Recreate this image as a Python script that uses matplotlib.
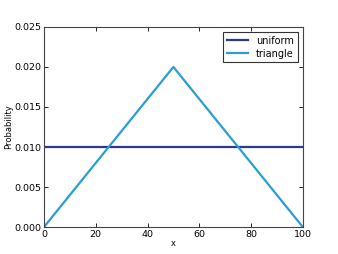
import numpy as np
import matplotlib
matplotlib.use('Agg')
import matplotlib.pyplot as plt

# datos
xs = [0, 50, 100]
triangle = [0.0, 0.02, 0.0]
xs_uniform = [0, 100]
uniform = [0.01, 0.01]

plt.rcParams['font.size'] = 6.5
fig = plt.figure(figsize=(3.38, 2.54), dpi=100)
ax = fig.add_axes([0.130, 0.106, 0.766, 0.788])

ax.plot(xs_uniform, uniform, color='#2a3b8f', lw=1.6, label='uniform')
ax.plot(xs, triangle, color='#2b9dcf', lw=1.6, label='triangle')

ax.set_xlim(0, 100)
ax.set_ylim(0, 0.025)
ax.set_xticks([0, 20, 40, 60, 80, 100])
ax.set_yticks([0.0, 0.005, 0.01, 0.015, 0.02, 0.025])
ax.set_yticklabels(['%.3f' % v for v in ax.get_yticks()])
ax.tick_params(direction='in', top=True, right=True, length=3, width=0.6, pad=2, labelsize=6.8)
for s in ax.spines.values():
    s.set_linewidth(0.8)
    s.set_color('#444444')

ax.set_xlabel('x', fontsize=6, labelpad=0)
ax.set_ylabel('Probability', fontsize=6, labelpad=1)

leg = ax.legend(loc='upper right', fontsize=7, fancybox=False, framealpha=1,
                handlelength=2.2, borderpad=0.4, labelspacing=0.3)
leg.get_frame().set_edgecolor('#333333')
leg.get_frame().set_linewidth(0.8)

fig.savefig('out.png', dpi=100)
